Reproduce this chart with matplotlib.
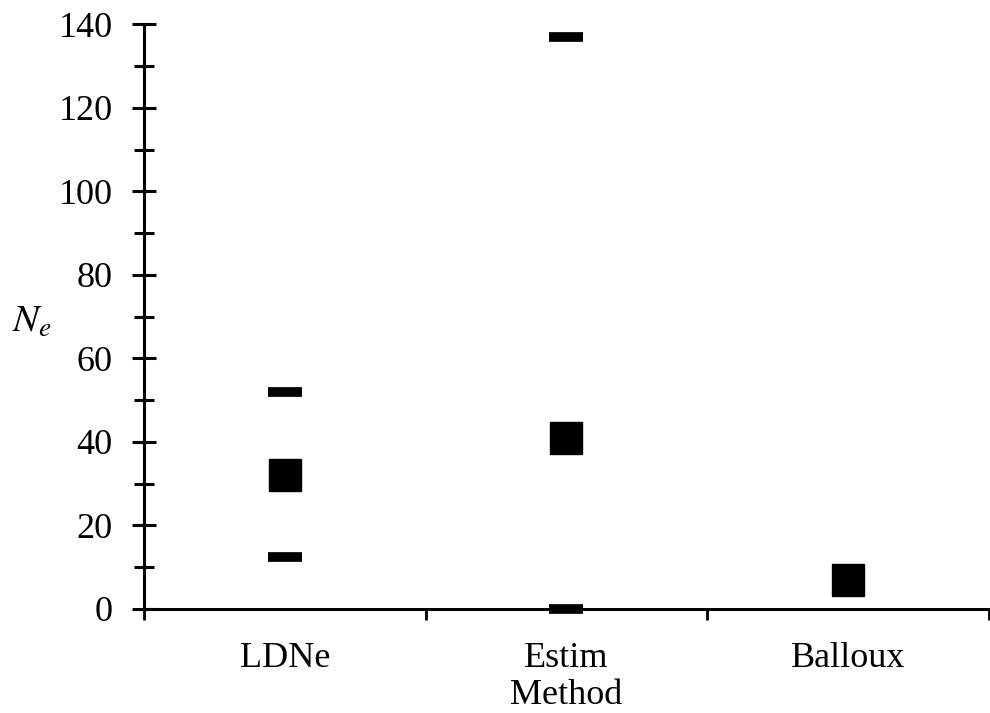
import numpy as np
import matplotlib.pyplot as plt
from matplotlib.ticker import MultipleLocator

metodos = ['LDNe', 'Estim', 'Balloux']
ne_estimado = [32, 41, 7]
ic_inferior = [12.5, 0, np.nan]
ic_superior = [52, 137, np.nan]

plt.rcParams['font.family'] = ['Liberation Serif', 'DejaVu Serif']
plt.rcParams['mathtext.fontset'] = 'stix'

fig = plt.figure(figsize=(9.9, 7.13), dpi=100)
ax = fig.add_axes([0.1455, 0.146, 0.853, 0.82])

x = np.arange(len(metodos))
ax.plot(x, ne_estimado, linestyle='none', marker='s', markersize=23, color='black', clip_on=False, zorder=3)
ax.plot(x, ic_inferior, linestyle='none', marker='_', markersize=24, markeredgewidth=7, color='black', clip_on=False, zorder=3)
ax.plot(x, ic_superior, linestyle='none', marker='_', markersize=24, markeredgewidth=7, color='black', clip_on=False, zorder=3)

ax.set_xlim(-0.5, len(metodos) - 0.5)
ax.set_ylim(0, 140)

# ticks do eixo x nas fronteiras, rotulos no centro
ax.set_xticks(np.arange(-0.5, len(metodos), 1.0))
ax.set_xticklabels([])
ax.set_xticks(x, minor=True)
ax.set_xticklabels(metodos, minor=True)
ax.tick_params(axis='x', which='major', direction='out', length=8, width=2)
ax.tick_params(axis='x', which='minor', length=0, pad=24, labelsize=26)

ax.yaxis.set_major_locator(MultipleLocator(20))
ax.yaxis.set_minor_locator(MultipleLocator(10))
ax.tick_params(axis='y', which='major', direction='inout', length=17, width=2.2, labelsize=26, pad=14)
ax.tick_params(axis='y', which='minor', direction='inout', length=14, width=2.2)

for lado in ['top', 'right']:
    ax.spines[lado].set_visible(False)
for lado in ['left', 'bottom']:
    ax.spines[lado].set_linewidth(2.2)

ax.set_xlabel('Method', fontsize=26, labelpad=3)
ax.set_ylabel('$N_e$', fontsize=28, rotation=0, va='center', ha='center')
ax.yaxis.set_label_coords(-0.133, 0.49)

fig.savefig('out.png', dpi=100)
